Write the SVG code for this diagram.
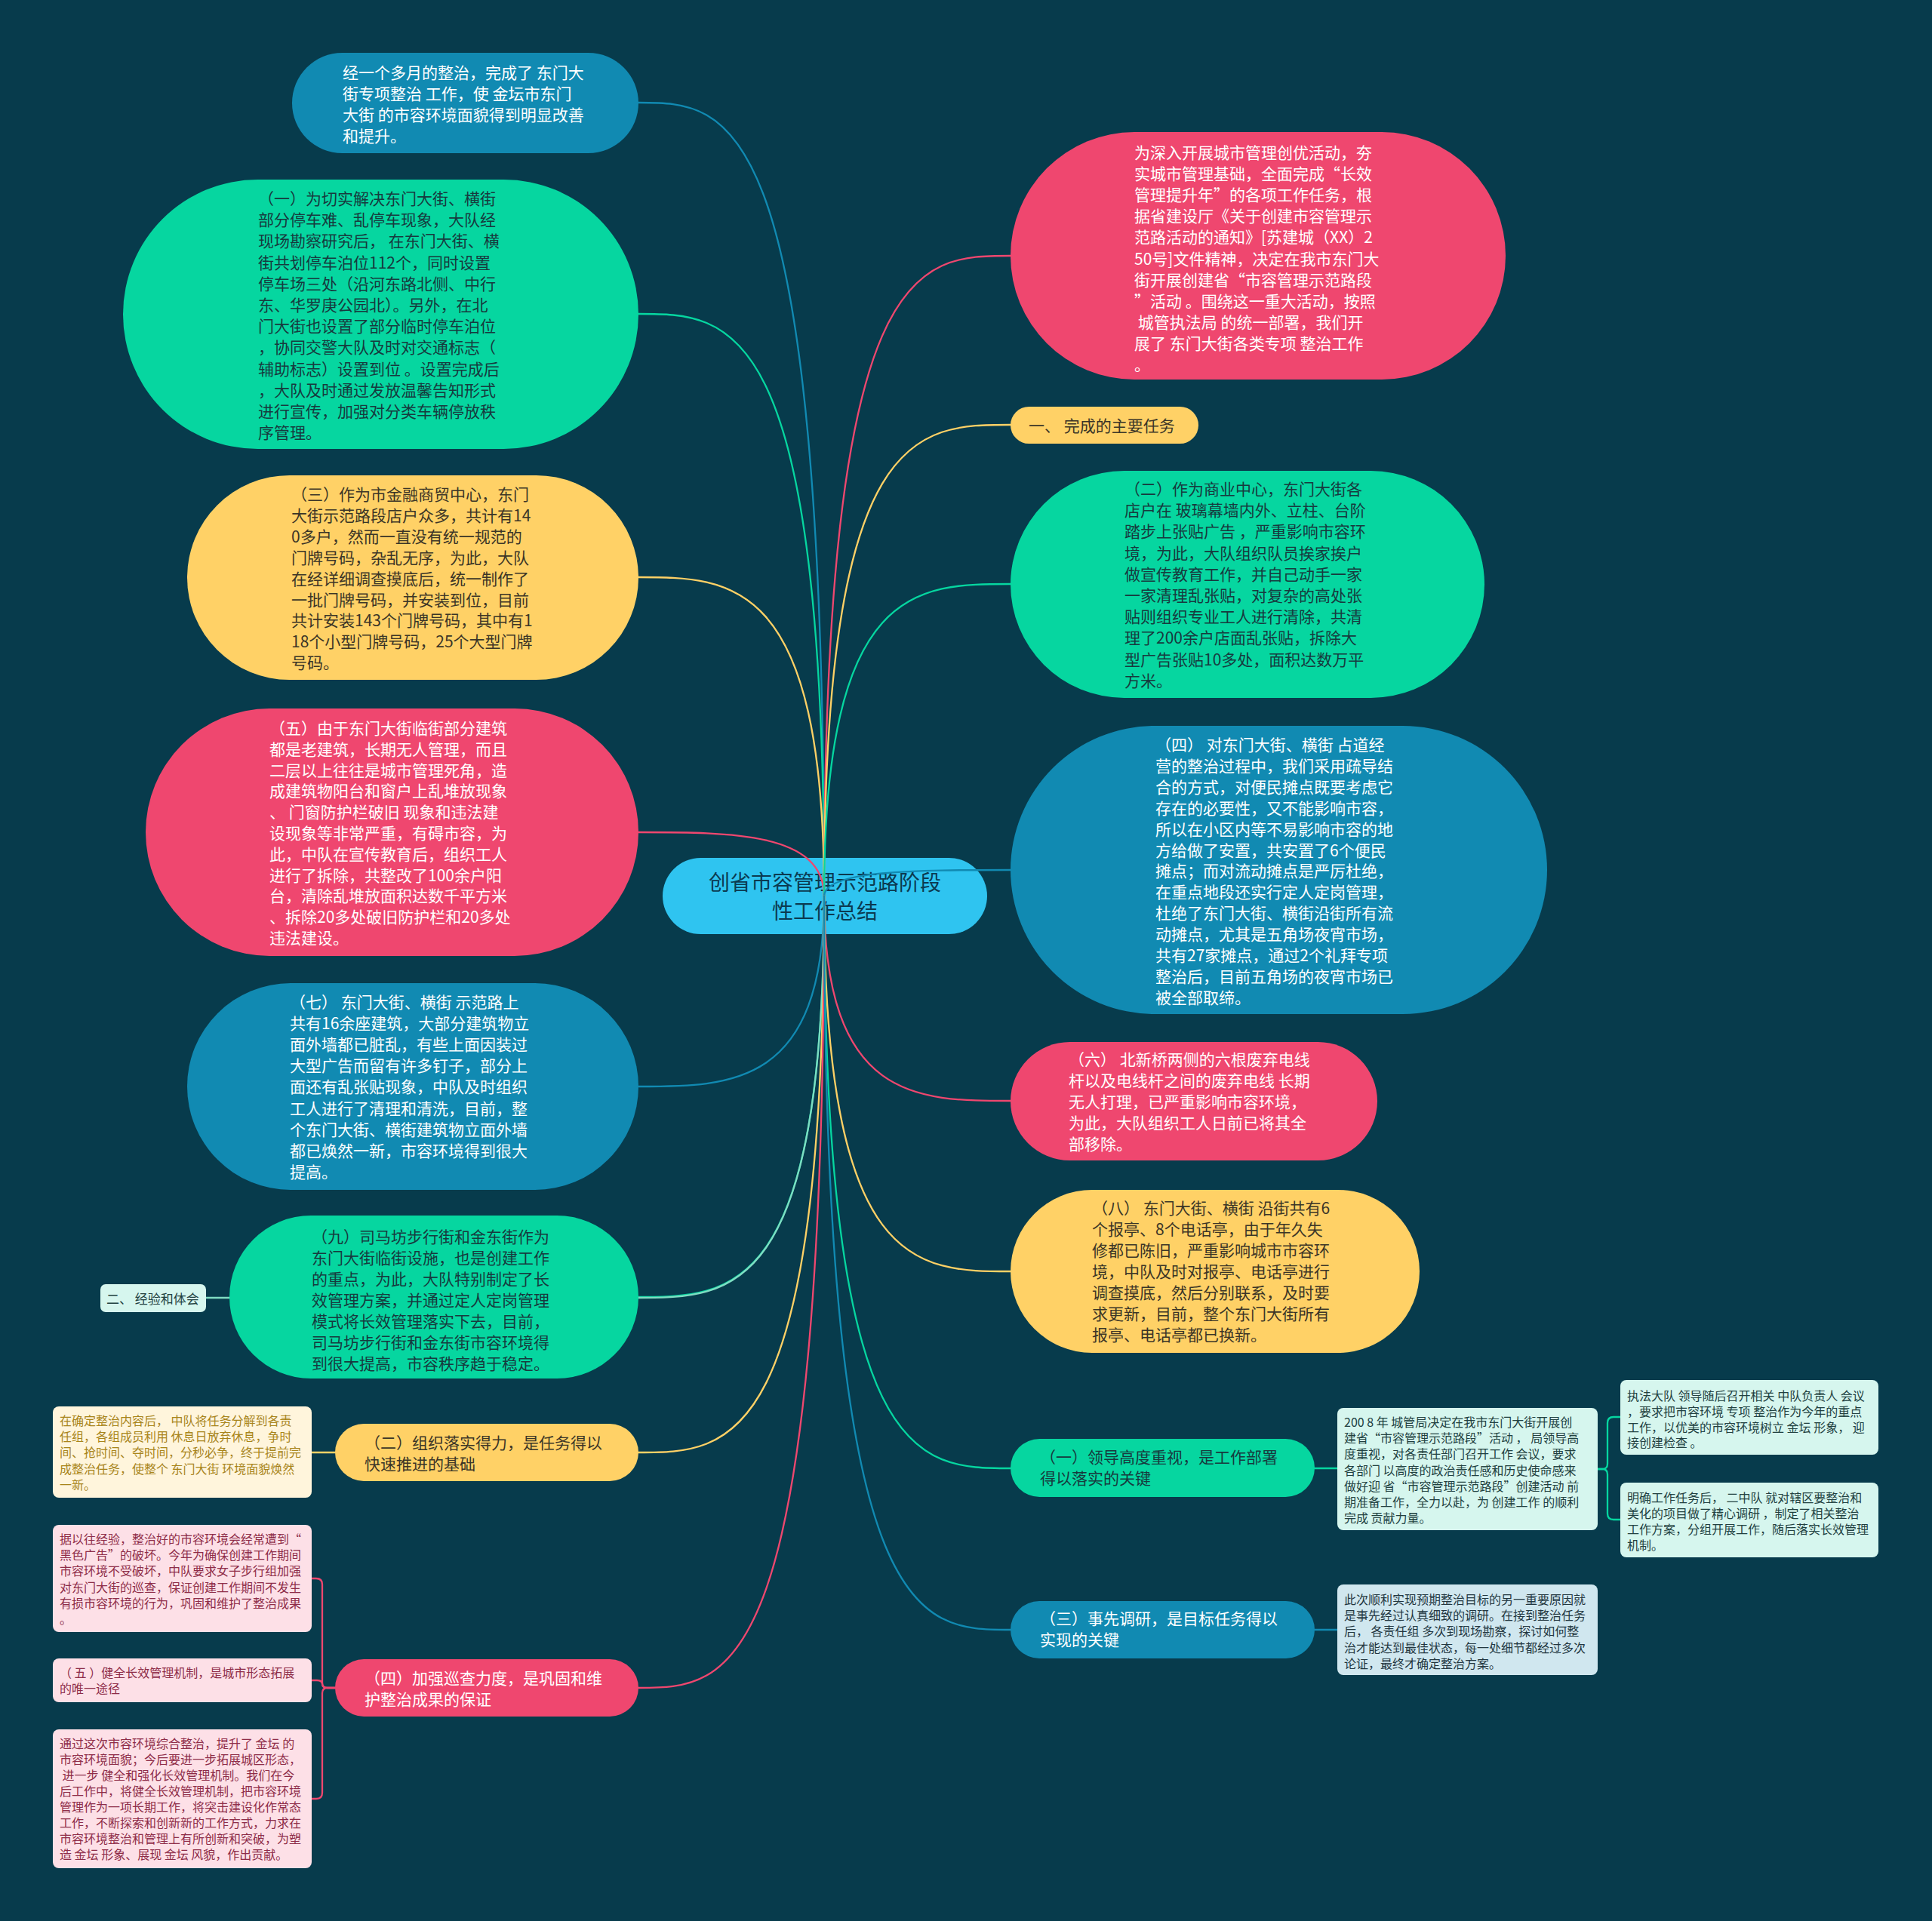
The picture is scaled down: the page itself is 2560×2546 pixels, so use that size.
<svg xmlns="http://www.w3.org/2000/svg" width="2560" height="2546" viewBox="0 0 2560 2546">
<defs>
<style>
.bg{fill:#073b4c}
.blue{fill:#118ab2}
.green{fill:#06d6a0}
.yellow{fill:#ffd166}
.pink{fill:#ef476f}
.center{fill:#2fc4f0}
.cream{fill:#fff5dc}
.lpink{fill:#fde0e7}
.lmint{fill:#d6f6ee}
.lblue{fill:#d0e7ef}
text{font-family:"Noto Sans CJK SC","Microsoft YaHei","Noto Sans",sans-serif;font-size:21px}
.tw{fill:#ffffff}
.td{fill:#173a3e}
.ty{fill:#3b3527}
.tc{fill:#0b3a50;font-size:28px}
.s{font-size:16px}
.sy{fill:#a8841a}
.sp{fill:#8e2c48}
.sm{fill:#21403f}
.sb{fill:#22363f}
.c{fill:none;stroke-width:2.3;stroke-linecap:round}
.cb{stroke:#118ab2}
.cg{stroke:#06d6a0}
.cy{stroke:#ffd166}
.cp{stroke:#ef476f}
.cm{stroke:#7fdcc2}
</style>
</defs>
<rect class="bg" x="0" y="0" width="2560" height="2546"/>

<g id="node-center">
<rect class="center" x="878" y="1137" width="430" height="101" rx="50.5"/>
<text class="tc" x="1093" y="1180" text-anchor="middle"><tspan x="1093">创省市容管理示范路阶段</tspan><tspan x="1093" dy="38">性工作总结</tspan></text>
</g>

<g id="connectors">
<path class="c cb" d="M1092 1188 C1092 136 969 136 846 136"/>
<path class="c cg" d="M1092 1188 C1092 416 969 416 846 416"/>
<path class="c cy" d="M1092 1188 C1092 765 969 765 846 765"/>
<path class="c cp" d="M1092 1188 C1092 1103 969 1103 846 1103"/>
<path class="c cb" d="M1092 1188 C1092 1440 969 1440 846 1440"/>
<path class="c cg" d="M1092 1188 C1092 1719 969 1719 846 1719"/>
<path class="c cm" d="M1092 1188 C1092 1720 969 1720 846 1720 L273 1720"/>
<path class="c cy" d="M1092 1188 C1092 1925 969 1925 846 1925"/>
<path class="c cp" d="M1092 1188 C1092 2237 969 2237 846 2237"/>
<path class="c cp" d="M1092 1188 C1092 339 1215 339 1339 339"/>
<path class="c cy" d="M1092 1188 C1092 563 1215 563 1339 563"/>
<path class="c cg" d="M1092 1188 C1092 774 1215 774 1339 774"/>
<path class="c cb" d="M1092 1188 C1092 1153 1215 1153 1339 1153"/>
<path class="c cp" d="M1092 1188 C1092 1459 1215 1459 1339 1459"/>
<path class="c cy" d="M1092 1188 C1092 1685 1215 1685 1339 1685"/>
<path class="c cg" d="M1092 1188 C1092 1946 1215 1946 1339 1946"/>
<path class="c cb" d="M1092 1188 C1092 2160 1215 2160 1339 2160"/>
<path class="c cy" d="M444 1925 L413 1925"/>
<path class="c cp" d="M444 2237 L434 2237 Q427 2237 427 2230 L427 2100 Q427 2092 419 2092 L413 2092"/>
<path class="c cp" d="M444 2237 L434 2237 Q427 2237 427 2232 Q427 2227 420 2227 L413 2227"/>
<path class="c cp" d="M444 2237 L434 2237 Q427 2237 427 2244 L427 2376 Q427 2384 419 2384 L413 2384"/>
<path class="c cg" d="M1742 1946 L1772 1946"/>
<path class="c cg" d="M2117 1947 L2123 1947 Q2130 1947 2130 1940 L2130 1886 Q2130 1878 2138 1878 L2147 1878"/>
<path class="c cg" d="M2117 1947 L2123 1947 Q2130 1947 2130 1954 L2130 2006 Q2130 2014 2138 2014 L2147 2014"/>
<path class="c cb" d="M1742 2160 L1772 2160"/>
</g>

<g id="node-l1">
<rect class="blue" x="387" y="70" width="459" height="133" rx="66.5"/>
<text class="tw" x="454" y="104" xml:space="preserve"><tspan x="454">经一个多月的整治，完成了 东门大</tspan><tspan x="454" dy="28">街专项整治 工作，使 金坛市东门</tspan><tspan x="454" dy="28">大街 的市容环境面貌得到明显改善</tspan><tspan x="454" dy="28">和提升。</tspan></text>
</g>

<g id="node-l2">
<rect class="green" x="163" y="238" width="683" height="357" rx="178.5"/>
<text class="td" x="342" y="271" xml:space="preserve"><tspan x="342">（一）为切实解决东门大街、横街</tspan><tspan x="342" dy="28.2">部分停车难、乱停车现象，大队经</tspan><tspan x="342" dy="28.2">现场勘察研究后， 在东门大街、横</tspan><tspan x="342" dy="28.2">街共划停车泊位112个，同时设置</tspan><tspan x="342" dy="28.2">停车场三处（沿河东路北侧、中行</tspan><tspan x="342" dy="28.2">东、华罗庚公园北）。另外，在北</tspan><tspan x="342" dy="28.2">门大街也设置了部分临时停车泊位</tspan><tspan x="342" dy="28.2">，协同交警大队及时对交通标志（</tspan><tspan x="342" dy="28.2">辅助标志）设置到位 。设置完成后</tspan><tspan x="342" dy="28.2">，大队及时通过发放温馨告知形式</tspan><tspan x="342" dy="28.2">进行宣传，加强对分类车辆停放秩</tspan><tspan x="342" dy="28.2">序管理。</tspan></text>
</g>

<g id="node-l3">
<rect class="yellow" x="248" y="630" width="598" height="271" rx="135.5"/>
<text class="ty" x="386" y="663" xml:space="preserve"><tspan x="386">（三）作为市金融商贸中心，东门</tspan><tspan x="386" dy="27.9">大街示范路段店户众多，共计有14</tspan><tspan x="386" dy="27.9">0多户，然而一直没有统一规范的</tspan><tspan x="386" dy="27.9">门牌号码，杂乱无序，为此，大队</tspan><tspan x="386" dy="27.9">在经详细调查摸底后，统一制作了</tspan><tspan x="386" dy="27.9">一批门牌号码，并安装到位，目前</tspan><tspan x="386" dy="27.9">共计安装143个门牌号码，其中有1</tspan><tspan x="386" dy="27.9">18个小型门牌号码，25个大型门牌</tspan><tspan x="386" dy="27.9">号码。</tspan></text>
</g>

<g id="node-l4">
<rect class="pink" x="193" y="939" width="653" height="328" rx="164"/>
<text class="tw" x="357" y="973" xml:space="preserve"><tspan x="357">（五）由于东门大街临街部分建筑</tspan><tspan x="357" dy="27.8">都是老建筑，长期无人管理，而且</tspan><tspan x="357" dy="27.8">二层以上往往是城市管理死角，造</tspan><tspan x="357" dy="27.8">成建筑物阳台和窗户上乱堆放现象</tspan><tspan x="357" dy="27.8">、 门窗防护栏破旧 现象和违法建</tspan><tspan x="357" dy="27.8">设现象等非常严重，有碍市容，为</tspan><tspan x="357" dy="27.8">此，中队在宣传教育后，组织工人</tspan><tspan x="357" dy="27.8">进行了拆除，共整改了100余户阳</tspan><tspan x="357" dy="27.8">台，清除乱堆放面积达数千平方米</tspan><tspan x="357" dy="27.8">、拆除20多处破旧防护栏和20多处</tspan><tspan x="357" dy="27.8">违法建设。</tspan></text>
</g>

<g id="node-l5">
<rect class="blue" x="248" y="1303" width="598" height="274" rx="137"/>
<text class="tw" x="384" y="1336" xml:space="preserve"><tspan x="384">（七） 东门大街、横街 示范路上</tspan><tspan x="384" dy="28.1">共有16余座建筑，大部分建筑物立</tspan><tspan x="384" dy="28.1">面外墙都已脏乱，有些上面因装过</tspan><tspan x="384" dy="28.1">大型广告而留有许多钉子，部分上</tspan><tspan x="384" dy="28.1">面还有乱张贴现象，中队及时组织</tspan><tspan x="384" dy="28.1">工人进行了清理和清洗，目前，整</tspan><tspan x="384" dy="28.1">个东门大街、横街建筑物立面外墙</tspan><tspan x="384" dy="28.1">都已焕然一新，市容环境得到很大</tspan><tspan x="384" dy="28.1">提高。</tspan></text>
</g>

<g id="node-l6">
<rect class="green" x="304" y="1611" width="542" height="216" rx="108"/>
<text class="td" x="413" y="1647" xml:space="preserve"><tspan x="413">（九）司马坊步行街和金东街作为</tspan><tspan x="413" dy="28">东门大街临街设施，也是创建工作</tspan><tspan x="413" dy="28">的重点，为此，大队特别制定了长</tspan><tspan x="413" dy="28">效管理方案，并通过定人定岗管理</tspan><tspan x="413" dy="28">模式将长效管理落实下去，目前，</tspan><tspan x="413" dy="28">司马坊步行街和金东街市容环境得</tspan><tspan x="413" dy="28">到很大提高，市容秩序趋于稳定。</tspan></text>
</g>

<g id="node-l7">
<rect class="lmint" x="133" y="1702" width="140" height="37" rx="7"/>
<text class="sm" x="141" y="1728" style="font-size:17px" xml:space="preserve">二、 经验和体会</text>
</g>

<g id="node-l8">
<rect class="yellow" x="444" y="1887" width="402" height="76" rx="38"/>
<text class="ty" x="483" y="1920" xml:space="preserve"><tspan x="483">（二）组织落实得力，是任务得以</tspan><tspan x="483" dy="28">快速推进的基础</tspan></text>
</g>

<g id="node-l8-1">
<rect class="cream" x="70" y="1864" width="343" height="121" rx="8"/>
<text class="s sy" x="79" y="1889" xml:space="preserve"><tspan x="79">在确定整治内容后， 中队将任务分解到各责</tspan><tspan x="79" dy="21.2">任组，各组成员利用 休息日放弃休息，争时</tspan><tspan x="79" dy="21.2">间、抢时间、夺时间，分秒必争，终于提前完</tspan><tspan x="79" dy="21.2">成整治任务，使整个 东门大街 环境面貌焕然</tspan><tspan x="79" dy="21.2">一新。</tspan></text>
</g>

<g id="node-l9">
<rect class="pink" x="444" y="2199" width="402" height="76" rx="38"/>
<text class="tw" x="483" y="2232" xml:space="preserve"><tspan x="483">（四）加强巡查力度，是巩固和维</tspan><tspan x="483" dy="28">护整治成果的保证</tspan></text>
</g>

<g id="node-l9-1">
<rect class="lpink" x="70" y="2021" width="343" height="142" rx="8"/>
<text class="s sp" x="79" y="2046" xml:space="preserve"><tspan x="79">据以往经验，整治好的市容环境会经常遭到“</tspan><tspan x="79" dy="21.2">黑色广告”的破坏。今年为确保创建工作期间</tspan><tspan x="79" dy="21.2">市容环境不受破坏，中队要求女子步行组加强</tspan><tspan x="79" dy="21.2">对东门大街的巡查，保证创建工作期间不发生</tspan><tspan x="79" dy="21.2">有损市容环境的行为，巩固和维护了整治成果</tspan><tspan x="79" dy="21.2">。</tspan></text>
</g>

<g id="node-l9-2">
<rect class="lpink" x="70" y="2198" width="343" height="58" rx="8"/>
<text class="s sp" x="79" y="2223" xml:space="preserve"><tspan x="79">（ 五 ）健全长效管理机制，是城市形态拓展</tspan><tspan x="79" dy="21.2">的唯一途径</tspan></text>
</g>

<g id="node-l9-3">
<rect class="lpink" x="70" y="2292" width="343" height="184" rx="8"/>
<text class="s sp" x="79" y="2317" xml:space="preserve"><tspan x="79">通过这次市容环境综合整治，提升了 金坛 的</tspan><tspan x="79" dy="21">市容环境面貌；今后要进一步拓展城区形态，</tspan><tspan x="79" dy="21"> 进一步 健全和强化长效管理机制。我们在今</tspan><tspan x="79" dy="21">后工作中，将健全长效管理机制，把市容环境</tspan><tspan x="79" dy="21">管理作为一项长期工作，将突击建设化作常态</tspan><tspan x="79" dy="21">工作，不断探索和创新新的工作方式，力求在</tspan><tspan x="79" dy="21">市容环境整治和管理上有所创新和突破，为塑</tspan><tspan x="79" dy="21">造 金坛 形象、展现 金坛 风貌，作出贡献。</tspan></text>
</g>

<g id="node-r1">
<rect class="pink" x="1339" y="175" width="656" height="328" rx="164"/>
<text class="tw" x="1503" y="210" xml:space="preserve"><tspan x="1503">为深入开展城市管理创优活动，夯</tspan><tspan x="1503" dy="28.1">实城市管理基础，全面完成“长效</tspan><tspan x="1503" dy="28.1">管理提升年”的各项工作任务，根</tspan><tspan x="1503" dy="28.1">据省建设厅《关于创建市容管理示</tspan><tspan x="1503" dy="28.1">范路活动的通知》[苏建城（XX）2</tspan><tspan x="1503" dy="28.1">50号]文件精神，决定在我市东门大</tspan><tspan x="1503" dy="28.1">街开展创建省“市容管理示范路段</tspan><tspan x="1503" dy="28.1">”活动 。围绕这一重大活动，按照</tspan><tspan x="1503" dy="28.1"> 城管执法局 的统一部署，我们开</tspan><tspan x="1503" dy="28.1">展了 东门大街各类专项 整治工作</tspan><tspan x="1503" dy="28.1">。</tspan></text>
</g>

<g id="node-r2">
<rect class="yellow" x="1339" y="539" width="249" height="49" rx="24.5"/>
<text class="ty" x="1363" y="572" xml:space="preserve">一、 完成的主要任务</text>
</g>

<g id="node-r3">
<rect class="green" x="1339" y="624" width="628" height="301" rx="150.5"/>
<text class="td" x="1490" y="656" xml:space="preserve"><tspan x="1490">（二）作为商业中心，东门大街各</tspan><tspan x="1490" dy="28.2">店户在 玻璃幕墙内外、立柱、台阶</tspan><tspan x="1490" dy="28.2">踏步上张贴广告 ，严重影响市容环</tspan><tspan x="1490" dy="28.2">境，为此，大队组织队员挨家挨户</tspan><tspan x="1490" dy="28.2">做宣传教育工作，并自己动手一家</tspan><tspan x="1490" dy="28.2">一家清理乱张贴，对复杂的高处张</tspan><tspan x="1490" dy="28.2">贴则组织专业工人进行清除，共清</tspan><tspan x="1490" dy="28.2">理了200余户店面乱张贴，拆除大</tspan><tspan x="1490" dy="28.2">型广告张贴10多处，面积达数万平</tspan><tspan x="1490" dy="28.2">方米。</tspan></text>
</g>

<g id="node-r4">
<rect class="blue" x="1339" y="962" width="711" height="382" rx="191"/>
<text class="tw" x="1531" y="995" xml:space="preserve"><tspan x="1531">（四） 对东门大街、横街 占道经</tspan><tspan x="1531" dy="27.9">营的整治过程中，我们采用疏导结</tspan><tspan x="1531" dy="27.9">合的方式，对便民摊点既要考虑它</tspan><tspan x="1531" dy="27.9">存在的必要性，又不能影响市容，</tspan><tspan x="1531" dy="27.9">所以在小区内等不易影响市容的地</tspan><tspan x="1531" dy="27.9">方给做了安置，共安置了6个便民</tspan><tspan x="1531" dy="27.9">摊点；而对流动摊点是严厉杜绝，</tspan><tspan x="1531" dy="27.9">在重点地段还实行定人定岗管理，</tspan><tspan x="1531" dy="27.9">杜绝了东门大街、横街沿街所有流</tspan><tspan x="1531" dy="27.9">动摊点，尤其是五角场夜宵市场，</tspan><tspan x="1531" dy="27.9">共有27家摊点，通过2个礼拜专项</tspan><tspan x="1531" dy="27.9">整治后，目前五角场的夜宵市场已</tspan><tspan x="1531" dy="27.9">被全部取缔。</tspan></text>
</g>

<g id="node-r5">
<rect class="pink" x="1339" y="1381" width="486" height="157" rx="78.5"/>
<text class="tw" x="1416" y="1412" xml:space="preserve"><tspan x="1416">（六） 北新桥两侧的六根废弃电线</tspan><tspan x="1416" dy="28">杆以及电线杆之间的废弃电线 长期</tspan><tspan x="1416" dy="28">无人打理，已严重影响市容环境，</tspan><tspan x="1416" dy="28">为此，大队组织工人日前已将其全</tspan><tspan x="1416" dy="28">部移除。</tspan></text>
</g>

<g id="node-r6">
<rect class="yellow" x="1339" y="1577" width="542" height="216" rx="108"/>
<text class="ty" x="1447" y="1609" xml:space="preserve"><tspan x="1447">（八） 东门大街、横街 沿街共有6</tspan><tspan x="1447" dy="28">个报亭、8个电话亭，由于年久失</tspan><tspan x="1447" dy="28">修都已陈旧，严重影响城市市容环</tspan><tspan x="1447" dy="28">境，中队及时对报亭、电话亭进行</tspan><tspan x="1447" dy="28">调查摸底，然后分别联系，及时要</tspan><tspan x="1447" dy="28">求更新，目前，整个东门大街所有</tspan><tspan x="1447" dy="28">报亭、电话亭都已换新。</tspan></text>
</g>

<g id="node-r7">
<rect class="green" x="1339" y="1907" width="403" height="77" rx="38.5"/>
<text class="td" x="1378" y="1939" xml:space="preserve"><tspan x="1378">（一）领导高度重视，是工作部署</tspan><tspan x="1378" dy="28">得以落实的关键</tspan></text>
</g>

<g id="node-r7-1">
<rect class="lmint" x="1772" y="1866" width="345" height="162" rx="8"/>
<text class="s sm" x="1781" y="1891" xml:space="preserve"><tspan x="1781">200 8 年 城管局决定在我市东门大街开展创</tspan><tspan x="1781" dy="21.2">建省“市容管理示范路段”活动 ， 局领导高</tspan><tspan x="1781" dy="21.2">度重视，对各责任部门召开工作 会议，要求</tspan><tspan x="1781" dy="21.2">各部门 以高度的政治责任感和历史使命感来</tspan><tspan x="1781" dy="21.2">做好迎 省“市容管理示范路段”创建活动 前</tspan><tspan x="1781" dy="21.2">期准备工作，全力以赴，为 创建工作 的顺利</tspan><tspan x="1781" dy="21.2">完成 贡献力量。</tspan></text>
</g>

<g id="node-r7-1-1">
<rect class="lmint" x="2147" y="1829" width="342" height="99" rx="8"/>
<text class="s sm" x="2156" y="1856" xml:space="preserve"><tspan x="2156">执法大队 领导随后召开相关 中队负责人 会议</tspan><tspan x="2156" dy="20.8">，要求把市容环境 专项 整治作为今年的重点</tspan><tspan x="2156" dy="20.8">工作，以优美的市容环境树立 金坛 形象， 迎</tspan><tspan x="2156" dy="20.8">接创建检查 。</tspan></text>
</g>

<g id="node-r7-1-2">
<rect class="lmint" x="2147" y="1965" width="342" height="99" rx="8"/>
<text class="s sm" x="2156" y="1991" xml:space="preserve"><tspan x="2156">明确工作任务后， 二中队 就对辖区要整治和</tspan><tspan x="2156" dy="21">美化的项目做了精心调研 ，制定了相关整治</tspan><tspan x="2156" dy="21">工作方案，分组开展工作，随后落实长效管理</tspan><tspan x="2156" dy="21">机制。</tspan></text>
</g>

<g id="node-r8">
<rect class="blue" x="1339" y="2122" width="403" height="76" rx="38"/>
<text class="tw" x="1378" y="2153" xml:space="preserve"><tspan x="1378">（三）事先调研，是目标任务得以</tspan><tspan x="1378" dy="28">实现的关键</tspan></text>
</g>

<g id="node-r8-1">
<rect class="lblue" x="1772" y="2100" width="345" height="120" rx="8"/>
<text class="s sb" x="1781" y="2126" xml:space="preserve"><tspan x="1781">此次顺利实现预期整治目标的另一重要原因就</tspan><tspan x="1781" dy="21.2">是事先经过认真细致的调研。在接到整治任务</tspan><tspan x="1781" dy="21.2">后， 各责任组 多次到现场勘察，探讨如何整</tspan><tspan x="1781" dy="21.2">治才能达到最佳状态，每一处细节都经过多次</tspan><tspan x="1781" dy="21.2">论证，最终才确定整治方案。</tspan></text>
</g>
</svg>
